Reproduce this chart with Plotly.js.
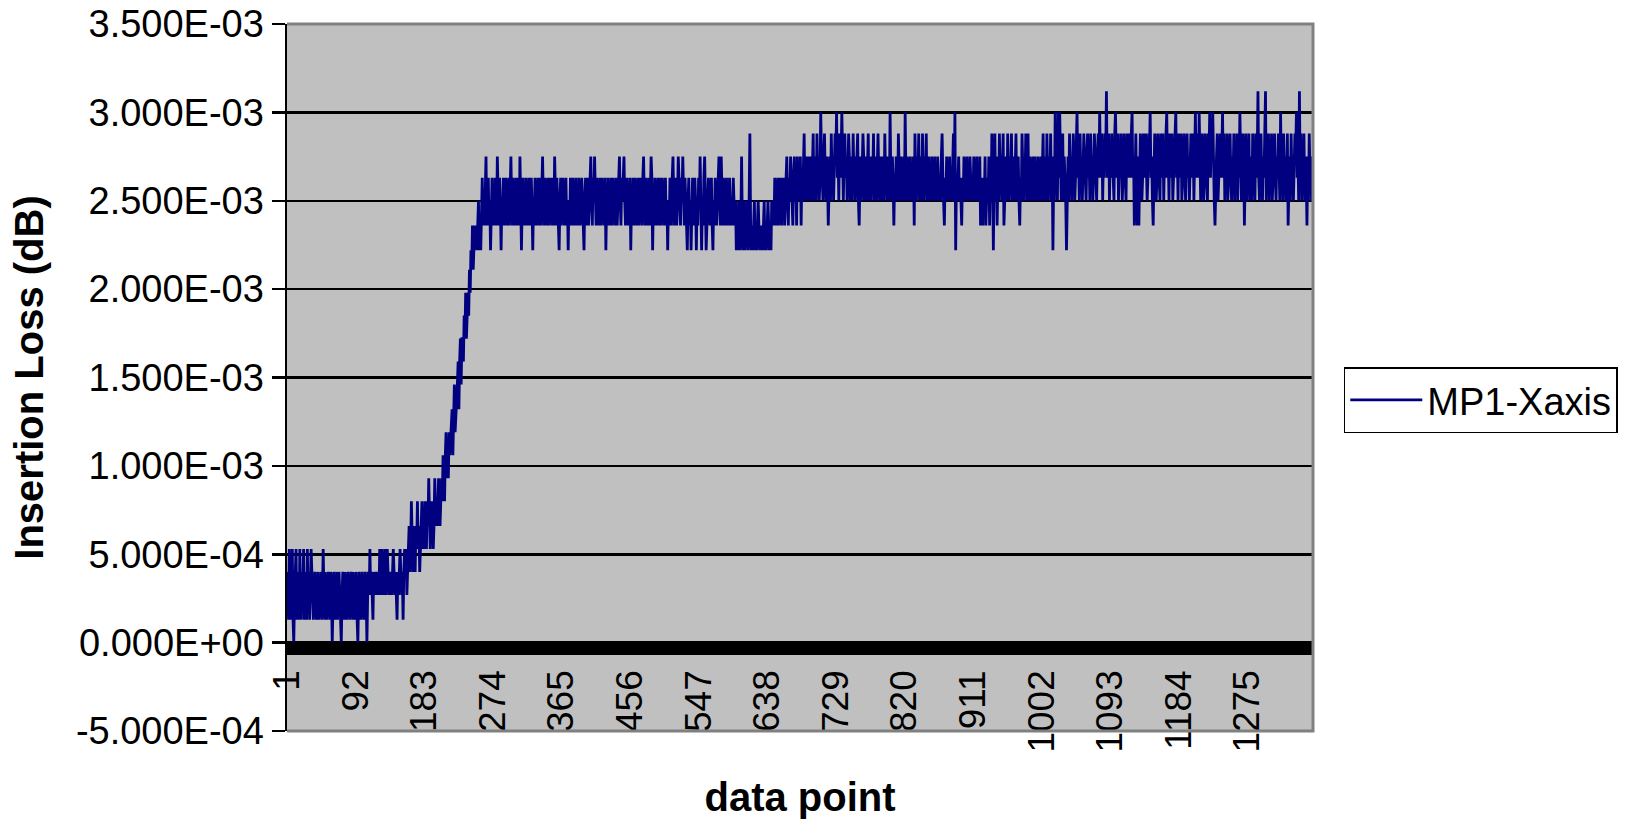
<!DOCTYPE html>
<html>
<head>
<meta charset="utf-8">
<script src="https://cdn.plot.ly/plotly-3.0.1.min.js"></script>
<style>
  html, body { margin: 0; padding: 0; background: #ffffff; }
  #chart { width: 1639px; height: 819px; }
</style>
</head>
<body>
<div id="chart"></div>
<script>
// ---- Data (insertion loss in milli-dB) ----
const seriesName = "MP1-Xaxis";

const baselineMilliDb = [
  .27,.4,.13,.53,.27,.13,.4,.53,.13,0,.27,.4,.53,.13,.27,.4,.13,.53,.27,.13,
  .4,.27,.53,.13,.27,.4,.13,.53,.27,.4,.13,.27,.53,.4,.27,.13,.27,.4,.27,.13,
  .27,.4,.13,.27,.27,.4,.13,.27,.53,.27,.13,.4,.27,.13,.27,.4,.27,.13,.4,.27,
  0,.27,.4,.27,.13,.27,.4,.13,.27,.4,.27,.13,0,.27,.4,.27,.13,.4,.27,.13,
  .27,.4,.27,.13,.27,.4,.27,.13,.4,.27,.13,.27,.4,.13,0,.27,.4,.27,.13,.27,
  .4,.27,.13,.27,.4,.27,0,.27,.4,.27,.53,.27,.4,.27,.13,.4,.27,.4,.27,.4,
  .27,.4,.27,.53,.4,.27,.53,.4,.27,.4,.53,.27,.4,.53,.4,.27,.4,.27,.4,.27,
  .4,.53,.4,.27,.4,.27,.13,.4,.27,.4,.53,.4,.27,.4,.13,.4,.53,.4,.53,.27
];

const rampMilliDb = [
  .4,.53,.66,.4,.53,.8,.53,.4,.66,.53,.4,.66,.53,.8,.53,.66,.4,.53,.66,.8,.53,.66,
  .53,.8,.66,.53,.8,.66,.93,.66,.53,.8,.66,.8,.53,.66,.93,.8,.66,.8,.66,.93,.8,.66,.8,
  .93,.8,1.06,.93,.8,1.06,1.19,.93,1.06,.93,1.19,1.06,1.19,
  1.19,1.32,1.06,1.32,1.46,1.19,1.32,1.46,
  1.46,1.59,1.32,1.59,1.72,1.46,1.72,
  1.72,1.59,1.85,1.72,1.98,1.72,1.85,1.98,1.85,
  2.11,1.98,2.22,2.11,2.36,2.11,2.22,2.36,2.22,
  2.36,2.22,2.36,2.5,2.22,2.36,2.22,2.36,2.63,2.36
];

const plateauMilliDb = [
  2.5,2.36,2.63,2.75,2.36,2.5,2.63,2.36,2.5,2.22,2.5,2.63,2.36,2.5,2.36,2.63,2.5,2.36,2.75,2.5,
  2.36,2.63,2.5,2.22,2.5,2.36,2.63,2.5,2.36,2.63,2.5,2.36,2.5,2.63,2.36,2.5,2.75,2.5,2.36,2.63,
  2.5,2.36,2.5,2.63,2.36,2.5,2.63,2.36,2.75,2.5,2.22,2.5,2.63,2.36,2.5,2.36,2.63,2.5,2.36,2.5,
  2.63,2.36,2.5,2.63,2.5,2.22,2.5,2.36,2.63,2.5,2.36,2.5,2.63,2.36,2.5,2.63,2.36,2.5,2.75,2.5,
  2.36,2.63,2.5,2.36,2.5,2.63,2.36,2.5,2.63,2.5,2.36,2.63,2.5,2.36,2.75,2.5,2.36,2.63,2.5,2.36,
  2.22,2.5,2.63,2.36,2.5,2.63,2.5,2.36,2.5,2.63,2.36,2.5,2.22,2.5,2.36,2.63,2.5,2.36,2.63,2.5,
  2.36,2.5,2.63,2.36,2.5,2.36,2.63,2.5,2.36,2.5,2.63,2.5,2.36,2.22,2.5,2.63,2.36,2.5,2.63,2.36,
  2.5,2.63,2.75,2.5,2.36,2.63,2.5,2.75,2.5,2.36,2.63,2.5,2.36,2.5,2.63,2.36,2.5,2.63,2.5,2.36,
  2.5,2.63,2.22,2.5,2.36,2.63,2.5,2.36,2.5,2.63,2.36,2.5,2.63,2.5,2.36,2.5,2.63,2.36,2.5,2.63,
  2.75,2.5,2.36,2.63,2.5,2.63,2.75,2.5,2.36,2.5,2.63,2.36,2.5,2.36,2.63,2.22,2.5,2.36,2.63,2.5,
  2.36,2.63,2.5,2.36,2.5,2.63,2.36,2.5,2.63,2.5,2.36,2.63,2.75,2.5,2.36,2.63,2.5,2.36,2.5,2.63,
  2.36,2.5,2.75,2.63,2.22,2.5,2.36,2.63,2.5,2.36,2.5,2.63,2.36,2.5,2.63,2.36,2.5,2.63,2.5,2.36,
  2.5,2.63,2.36,2.5,2.22,2.5,2.36,2.63,2.5,2.36,2.63,2.75,2.5,2.36,2.63,2.5,2.36,2.5,2.75,2.63,
  2.5,2.36,2.63,2.5,2.75,2.5,2.36,2.63,2.5,2.36,2.22,2.5,2.63,2.36,2.5,2.22,2.5,2.63,2.36,2.5,
  2.63,2.5,2.22,2.5,2.36,2.63,2.5,2.75,2.5,2.22,2.5,2.36,2.63,2.75,2.5,2.22,2.36,2.5,2.63,2.5,
  2.36,2.5,2.63,2.36,2.22,2.5,2.36,2.63,2.5,2.36,2.5,2.63,2.75,2.5,2.36,2.75,2.5,2.36,2.63,2.5,
  2.36,2.5,2.63,2.36,2.5,2.36,2.63,2.5,2.36
];

const dipMilliDb = [
  2.5,2.36,2.63,2.5,2.36,2.5,2.22,2.36,2.22,2.5,2.36,2.22,2.36,2.75,2.36,2.22,2.5,2.36,2.22,2.36,
  2.5,2.36,2.22,2.5,2.88,2.36,2.22,2.36,2.22,2.36,2.5,2.22,2.36,2.22,2.36,2.5,2.36,2.22,2.36,2.22,
  2.36,2.22,2.36,2.5,2.22,2.36,2.22,2.36,2.5,2.36,2.22,2.36,2.22,2.5,2.36,2.5,2.36,2.63,2.5,2.36
];

const riseMilliDb = [
  2.5,2.63,2.36,2.5,2.63,2.5,2.36,2.63,2.5,2.63,2.36,2.5,2.63,2.75,2.5,2.36,2.63,2.5,2.75,2.63,
  2.5,2.36,2.63,2.75,2.5,2.63,2.36,2.75,2.5,2.63,2.5,2.75,2.36,2.63,2.5,2.75,2.88,2.5,2.63,2.75,
  2.5,2.63,2.75,2.5,2.63,2.75,2.5,2.63,2.88,2.5,2.75,2.63,2.5,2.88,2.63,2.75,2.5,2.63,3.0,2.75,
  2.63,2.5,2.75,2.88,2.63,2.5,2.75,2.63,2.36,2.63,2.75,2.5,2.88,2.63,2.75,2.5,2.63,2.88,2.75,3.0
];

const midMilliDb = [
  2.63,2.75,2.5,2.88,2.63,2.75,3.0,2.63,2.5,2.75,2.88,2.63,2.75,2.5,2.63,2.88,2.75,2.5,2.63,2.75,
  2.5,2.88,2.63,2.75,2.5,2.63,2.75,2.88,2.5,2.36,2.63,2.75,2.5,2.63,2.88,2.75,2.5,2.63,2.75,2.5,
  2.63,2.88,2.5,2.75,2.63,2.5,2.75,2.63,2.88,2.5,2.63,2.75,2.5,2.63,2.88,2.63,2.5,2.75,2.63,2.5,
  2.75,2.63,2.5,2.88,2.63,2.75,2.5,2.63,2.75,2.5,3.0,2.63,2.5,2.75,2.63,2.36,2.63,2.5,2.75,2.63,
  2.5,2.88,2.63,2.5,2.75,2.63,2.5,2.63,2.75,2.5,3.0,2.63,2.5,2.75,2.63,2.5,2.63,2.75,2.5,2.63,
  2.5,2.75,2.36,2.88,2.63,2.5,2.75,2.63,2.88,2.5,2.63,2.75,2.5,2.88,2.63,2.5,2.75,2.63,2.88,2.5,
  2.63,2.75,2.5,2.63,2.5,2.75,2.63,2.5,2.63,2.75,2.5,2.63,2.5,2.75,2.63,2.5,2.63,2.5,2.75,2.88,
  2.63,2.5,2.36,2.63,2.5,2.75,2.63,2.5,2.63,2.75,2.5,2.63,2.5,2.75,2.88,2.5,3.0,2.22,2.63,2.5,
  2.63,2.75,2.5,2.63,2.5,2.36,2.63,2.5,2.75,2.63,2.5,2.63,2.75,2.5,2.63,2.5,2.75,2.63,2.5,2.63,
  2.5,2.75,2.63,2.5,2.63,2.75,2.5,2.63,2.5,2.75,2.36,2.63,2.5,2.36,2.63,2.5,2.75,2.36,2.5,2.63,
  2.5,2.75,2.36,2.63,2.5,2.88,2.63,2.22,2.63,2.88,2.5,2.75,2.36,2.63,2.5,2.88,2.63,2.75,2.5,2.63,
  2.88,2.36,2.5,2.63,2.75,2.5,2.88,2.63,2.5,2.75,2.63,2.88,2.5,2.63,2.75,2.5,2.63,2.88,2.5,2.63,
  2.75,2.5,2.36,2.63,2.5,2.88,2.63,2.5,2.75,2.63,2.88,2.5,2.63,2.88,2.5,2.75,2.63,2.5,2.63,2.75,
  2.5,2.63,2.75,2.5,2.63,2.5,2.75,2.63,2.5,2.63,2.75,2.5,2.63,2.88,2.5,2.63,2.75,2.5,2.88,2.63,
  2.5,2.75,2.63,2.88,2.5,2.75,2.22,2.63,2.5,3.0
];

const lateMilliDb = [
  2.63,2.75,2.5,3.0,2.63,3.0,2.75,2.5,2.63,2.88,2.5,2.75,2.63,2.5,2.22,2.63,2.75,2.5,2.88,2.63,
  2.75,2.5,2.63,2.88,2.75,2.5,2.63,2.88,3.0,2.63,2.75,2.5,2.88,2.63,2.75,2.5,2.63,2.88,2.75,2.63,
  2.5,2.75,2.88,2.63,2.75,2.5,2.88,2.63,2.75,2.5,2.63,2.88,2.75,2.63,2.5,2.75,2.88,2.63,3.0,2.75,
  2.63,2.88,2.5,2.75,2.63,2.88,2.75,3.12,2.63,2.75,2.88,2.5,2.75,2.63,2.88,2.75,2.63,2.5,2.88,3.0,
  2.75,2.63,2.88,2.5,2.75,2.63,2.88,2.75,2.5,2.63,2.88,2.75,2.63,2.5,2.88,2.75,2.63,2.88,2.75,2.63,
  2.88,3.0,2.63,2.75,2.36,2.63,2.88,2.5,2.36,2.75,2.36,2.63,2.88,2.75,2.5,2.63,2.88,2.75,2.63,2.88,
  2.75,2.5,2.63,2.88,2.75,3.0,2.63,2.75,2.5,2.36,2.63,2.88,2.75,2.5,2.63,2.88,2.75,2.63,2.5,2.88,
  2.75,2.63,2.88,2.5,2.75,2.63,2.88,3.0,2.63,2.75,2.5,2.88,2.63,2.75,2.88,2.5,2.63,2.75,2.88,3.0,
  2.63,2.75,2.5,2.88,2.63,2.75,2.88,2.5,2.63,2.75,2.88,2.63,2.5,2.75,2.88,2.63,2.75,2.5,2.63,2.88,
  2.75,2.63,2.88,2.5,2.75,3.0,2.63,2.88,2.75,2.63,3.0,2.75,2.5,2.63,2.88,2.75,2.5,2.63,2.88,2.75,
  2.63,2.5,2.88,2.75,3.0,2.63,2.88,2.75,3.0,2.63,2.5,2.36,2.63,2.75,2.88,2.5,2.63,2.75,2.88,2.63,
  2.75,3.0,2.63,2.88,2.5,2.75,2.63,2.88,2.5,2.63,2.75,2.88,2.63,2.5,2.75,2.63,2.88,2.5,2.75,2.63,
  2.88,2.5,2.75,2.63,3.0,2.75,2.5,2.63,2.88,2.75,2.36,2.63,2.88,2.5,2.75,2.63,2.88,2.5,2.75,2.63,
  2.5,2.88,2.63,2.75,2.5,2.88,2.63,2.75,3.12,2.63,2.5,2.75,2.88,2.63,2.5,2.75,2.63,2.88,3.12,2.5,
  2.75,2.63,2.88,2.5,2.75,2.63,2.88,2.5,2.63,2.75,2.88,2.63,2.5,2.75,2.63,2.88,2.75,2.5,3.0,2.63,
  2.75,2.5,2.88,2.63,2.75,2.5,2.63,2.88,2.36,2.63,2.75,2.5,2.88,2.63,2.75,2.5,2.63,2.88,2.75,3.0,
  2.63,2.75,2.5,3.12,2.63,2.88,2.5,2.75,2.63,2.88,2.5,2.75,2.63,2.36,2.75,2.5,2.88,2.63,2.75,2.5,
  2.63,2.75
];

// x-axis category tick labels
const xTickValues = [1, 92, 183, 274, 365, 456, 547, 638, 729, 820, 911, 1002, 1093, 1184, 1275];
const xTickLabels = ["1", "92", "183", "274", "365", "456", "547", "638", "729", "820", "911", "1002", "1093", "1184", "1275"];

// y-axis ticks (dB)
const yTickValues = [-0.0005, 0, 0.0005, 0.001, 0.0015, 0.002, 0.0025, 0.003, 0.0035];
const yTickLabels = ["-5.000E-04", "0.000E+00", "5.000E-04", "1.000E-03", "1.500E-03", "2.000E-03", "2.500E-03", "3.000E-03", "3.500E-03"];

// ---- Build trace ----
const milliDb = [].concat(baselineMilliDb, rampMilliDb, plateauMilliDb, dipMilliDb, riseMilliDb, midMilliDb, lateMilliDb);
const insertionLossDb = milliDb.map(v => v / 1000);   // unit conversion mdB -> dB
const dataPoint = insertionLossDb.map((_, i) => i + 1);

const FONT = "Liberation Sans, Arial, Helvetica, sans-serif";

const trace = {
  type: "scatter",
  mode: "lines",
  name: seriesName,
  x: dataPoint,
  y: insertionLossDb,
  line: { color: "#000080", width: 2.8 },
  hoverinfo: "skip"
};

const layout = {
  width: 1639,
  height: 819,
  margin: { l: 287, r: 326, t: 24, b: 88, pad: 0 },
  paper_bgcolor: "#ffffff",
  plot_bgcolor: "#c0c0c0",
  font: { family: FONT, color: "#000000" },
  showlegend: true,
  legend: {
    x: 1.03, y: 0.468, xanchor: "left", yanchor: "middle",
    bgcolor: "#ffffff", bordercolor: "#000000", borderwidth: 1.5,
    font: { family: FONT, size: 38, color: "#000000" },
    itemwidth: 72
  },
  xaxis: {
    range: [1, dataPoint.length],
    anchor: "free",
    position: 0.1167,
    tickmode: "array",
    tickvals: xTickValues,
    ticktext: xTickLabels,
    tickangle: -90,
    tickfont: { family: FONT, size: 37, color: "#000000" },
    ticks: "",
    showgrid: false,
    zeroline: false,
    showline: true,
    linecolor: "#000000",
    linewidth: 13,
    fixedrange: true,
    title: {
      text: "data point",
      font: { family: FONT, size: 40, color: "#000000", weight: "bold" },
      standoff: 33
    }
  },
  yaxis: {
    range: [-0.0005, 0.0035],
    tickmode: "array",
    tickvals: yTickValues,
    ticktext: yTickLabels,
    tickfont: { family: FONT, size: 38, color: "#000000" },
    ticks: "outside",
    ticklen: 13,
    tickwidth: 2.5,
    tickcolor: "#000000",
    showgrid: true,
    gridcolor: "#000000",
    gridwidth: 2.5,
    zeroline: false,
    showline: true,
    linecolor: "#000000",
    linewidth: 2.5,
    fixedrange: true,
    title: {
      text: "Insertion Loss (dB)",
      font: { family: FONT, size: 40, color: "#000000", weight: "bold" },
      standoff: 20
    }
  },
  shapes: [
    {
      type: "path", xref: "paper", yref: "paper", layer: "above",
      path: "M 0 1 L 1 1 L 1 0 L 0 0",
      line: { color: "#808080", width: 3 }
    }
  ]
};

Plotly.newPlot("chart", [trace], layout, { displayModeBar: false, staticPlot: true });
</script>
</body>
</html>
